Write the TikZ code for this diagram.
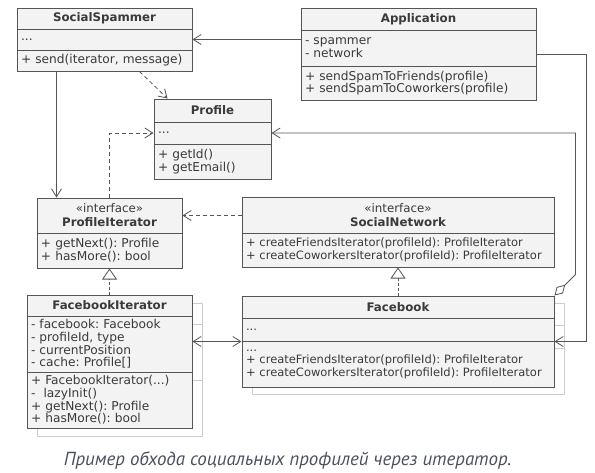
\documentclass[tikz,border=0pt]{standalone}
\usepackage{fontspec}
\setmainfont{DejaVu Sans}
\newfontfamily\capfont{PT Sans}
\usetikzlibrary{arrows.meta}
\definecolor{linec}{HTML}{555555}
\definecolor{boxc}{HTML}{F3F3F3}
\definecolor{textc}{HTML}{3A3A3A}
\definecolor{shadec}{HTML}{CCCCCC}
\definecolor{capc}{HTML}{4A5060}
\frenchspacing

\begin{document}
\begin{tikzpicture}[x=1pt,y=-1pt,inner sep=2pt,font=\fontsize{12.2}{12.7}\selectfont,text=textc,
  head/.style={draw=linec,line width=1pt,fill=boxc,align=center,font=\fontsize{11.8}{14}\selectfont\bfseries},
  body/.style 2 args={draw=linec,line width=1pt,fill=boxc,text width=#1,minimum height=#2,inner xsep=4pt,align=left},
  small/.style={font=\fontsize{11.5}{12.5}\selectfont},
  shade/.style={draw=shadec,line width=1pt,fill=white},
  assoc/.style={draw=linec,line width=0.8pt,-{Straight Barb[length=8pt,width=10pt]}},
  dep/.style={assoc,dash pattern=on 4pt off 3pt},
  real/.style={draw=linec,line width=0.8pt,dash pattern=on 3pt off 2pt,-{Triangle[open,length=11pt,width=15pt,fill=white]}},
  agg/.style={draw=linec,line width=0.8pt,{Diamond[open,length=15pt,width=9pt,fill=white]}-{Straight Barb[length=8pt,width=10pt]}},
  both/.style={draw=linec,line width=0.8pt,{Straight Barb[length=8pt,width=10pt]}-{Straight Barb[length=8pt,width=10pt]}}]

\useasboundingbox (0,0) rectangle (595,472);

% stacked copies behind the concrete classes
\draw[shade] (37,303) rectangle (202,436);
\draw[shade] (37,324) -- (202,324) (37,380) -- (202,380);
\draw[shade] (252,303) rectangle (564,394);
\draw[shade] (252,325) -- (564,325) (252,348) -- (564,348);

% SocialSpammer
\node[head,minimum width=175,minimum height=21] (spT) at (104.5,18.5) {SocialSpammer};
\node[body={167pt}{21}] (spA) at (104.5,39.5) {...};
\node[body={167pt}{21}] (spM) at (104.5,60.5) {+ send(iterator, message)};

% Application
\node[head,minimum width=235,minimum height=22] (apT) at (418.5,19) {Application};
\node[body={227pt}{36}] (apA) at (418.5,48) {- spammer\\- network};
\node[body={227pt}{34}] (apM) at (418.5,83) {+ sendSpamToFriends(profile)\\+ sendSpamToCoworkers(profile)};

% Profile
\node[head,minimum width=117,minimum height=23] (prT) at (212.5,110.5) {Profile};
\node[body={109pt}{22}] (prA) at (212.5,133) {...};
\node[body={109pt}{35}] (prM) at (212.5,161.5) {+ getId()\\+ getEmail()};

% ProfileIterator
\node[head,minimum width=145,minimum height=35] (piT) at (109.5,215.5) {{\mdseries «interface»}\\ProfileIterator};
\node[body={137pt}{35}] (piM) at (109.5,250.5) {+ getNext(): Profile\\+ hasMore(): bool};

% SocialNetwork
\node[head,minimum width=312,minimum height=36] (snT) at (398,215) {{\mdseries «interface»}\\SocialNetwork};
\node[body={304pt}{34},small] (snM) at (398,250) {+ createFriendsIterator(profileId): ProfileIterator\\+ createCoworkersIterator(profileId): ProfileIterator};

% FacebookIterator
\node[head,minimum width=165,minimum height=21] (fiT) at (109.5,305.5) {FacebookIterator};
\node[body={157pt}{56}] (fiA) at (109.5,344) {- facebook: Facebook\\- profileId, type\\- currentPosition\\- cache: Profile[]};
\node[body={157pt}{56}] (fiM) at (109.5,400) {+ FacebookIterator(...)\\-\ \ lazyInit()\\+ getNext(): Profile\\+ hasMore(): bool};

% Facebook
\node[head,minimum width=312,minimum height=22] (fbT) at (398,307) {Facebook};
\node[body={304pt}{23},small] (fbA) at (398,329.5) {...};
\node[body={304pt}{46},small] (fbM) at (398,364) {...\\+ createFriendsIterator(profileId): ProfileIterator\\+ createCoworkersIterator(profileId): ProfileIterator};

\coordinate (spOut) at ([xshift=-48pt]spM.south);
\coordinate (apOut) at ([yshift=-6pt]apA.east);

\draw[assoc] (apA.west |- spA.east) -- (spA.east);
\draw[assoc] (apOut) -- ++(50,0) |- (fbA.south east);
\draw[agg] (fbT.north east) -- ++(21,-21) |- (prA.east);
\draw[dep] ([xshift=35pt]spM.south) -- ([xshift=-45pt]prT.north);
\draw[assoc] (spOut) -- (spOut |- piT.north);
\draw[dep] (piT.north) |- (prA.west);
\draw[dep] (snT.west |- piT.east) -- (piT.east);
\draw[real] (fiT.north) -- (piM.south);
\draw[real] (fbT.north) -- (snM.south);
\draw[both] (fiA.east |- fbA.south west) -- (fbA.south west);

\node[font=\capfont\itshape\fontsize{18.9}{20}\selectfont,text=capc] (cap) at (287.5,461) {Пример обхода социальных профилей через итератор.};

\end{tikzpicture}
\end{document}
